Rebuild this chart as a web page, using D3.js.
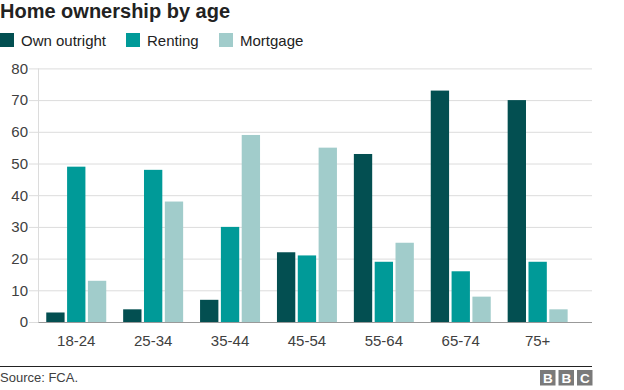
<!DOCTYPE html>
<html><head><meta charset="utf-8">
<script src="https://cdn.jsdelivr.net/npm/d3@7"></script>
<style>
body{margin:0;background:#fff;}
svg{display:block;font-family:"Liberation Sans",Arial,Helvetica,sans-serif;}
</style></head>
<body><svg id="c" width="624" height="390"></svg>
<script>
const categories = ["18-24","25-34","35-44","45-54","55-64","65-74","75+"];
const seriesNames = ["Own outright","Renting","Mortgage"];
const ownOutright = [3,4,7,22,53,73,70];
const renting = [49,48,30,21,19,16,19];
const mortgage = [13,38,59,55,25,8,4];
const yTicks = [0,10,20,30,40,50,60,70,80];
const colors = ["#034f51","#009a98","#a1cccb"];

const seriesVals = [ownOutright, renting, mortgage];
const svg = d3.select("#c");

const y = d3.scaleLinear().domain([0,80]).range([322,68.4]);
const x0 = d3.scaleBand().domain(categories).range([37.8,576.1]).paddingInner(0.22).paddingOuter(0.11);
const x1 = d3.scaleBand().domain(seriesNames).range([0,x0.bandwidth()]).paddingInner(0.12);

// title
svg.append("text").attr("x",0).attr("y",18).attr("font-size",20).attr("font-weight","bold").attr("fill","#222").text("Home ownership by age");

// legend
const legX = [0,126,219];
seriesNames.forEach((s,i)=>{
  svg.append("rect").attr("x",legX[i]).attr("y",33).attr("width",14).attr("height",14).attr("fill",colors[i]);
  svg.append("text").attr("x",legX[i]+21).attr("y",45.5).attr("font-size",15).attr("fill","#222").text(s);
});

// grid
const yAxis = d3.axisLeft(y).tickValues(yTicks).tickSize(-(592-29)).tickPadding(2);
const gy = svg.append("g").attr("transform","translate(29,0)").call(yAxis);
gy.select(".domain").remove();
gy.selectAll(".tick line").attr("stroke","#dcdcdc").attr("stroke-width",1);
gy.selectAll(".tick text").attr("font-size",15).attr("fill","#404040").attr("font-family","Liberation Sans, Arial, sans-serif").attr("x",-1);
// vertical axis line
svg.append("line").attr("x1",38.5).attr("x2",38.5).attr("y1",y(80)).attr("y2",y(0)).attr("stroke","#dcdcdc");

// bars
const g = svg.append("g");
categories.forEach((c,ci)=>{
  seriesNames.forEach((s,si)=>{
    const v = seriesVals[si][ci];
    g.append("rect")
      .attr("x",x0(c)+x1(s))
      .attr("y",y(v))
      .attr("width",x1.bandwidth())
      .attr("height",y(0)-y(v))
      .attr("fill",colors[si]);
  });
});

// baseline
svg.append("line").attr("x1",38.5).attr("x2",592).attr("y1",y(0)+0.5).attr("y2",y(0)+0.5).attr("stroke","#999").attr("stroke-width",1);

// x axis labels
const xAxis = d3.axisBottom(x0).tickSize(0).tickPadding(13);
const gx = svg.append("g").attr("transform",`translate(0,${y(0)})`).call(xAxis);
gx.select(".domain").remove();
gx.selectAll(".tick text").attr("font-size",15).attr("fill","#404040").attr("font-family","Liberation Sans, Arial, sans-serif");

// footer
svg.append("line").attr("x1",0).attr("x2",592).attr("y1",366.5).attr("y2",366.5).attr("stroke","#222").attr("stroke-width",1);
svg.append("text").attr("x",0).attr("y",382).attr("font-size",13).attr("fill","#404040").text("Source: FCA.");
const bbc = ["B","B","C"];
bbc.forEach((l,i)=>{
  const bx = 540 + i*18.5;
  svg.append("rect").attr("x",bx).attr("y",370).attr("width",15.5).attr("height",15.5).attr("fill","#7a7a7a");
  svg.append("text").attr("x",bx+7.75).attr("y",383).attr("text-anchor","middle").attr("font-size",13.5).attr("font-weight","bold").attr("fill","#fff").text(l);
});
</script></body></html>
